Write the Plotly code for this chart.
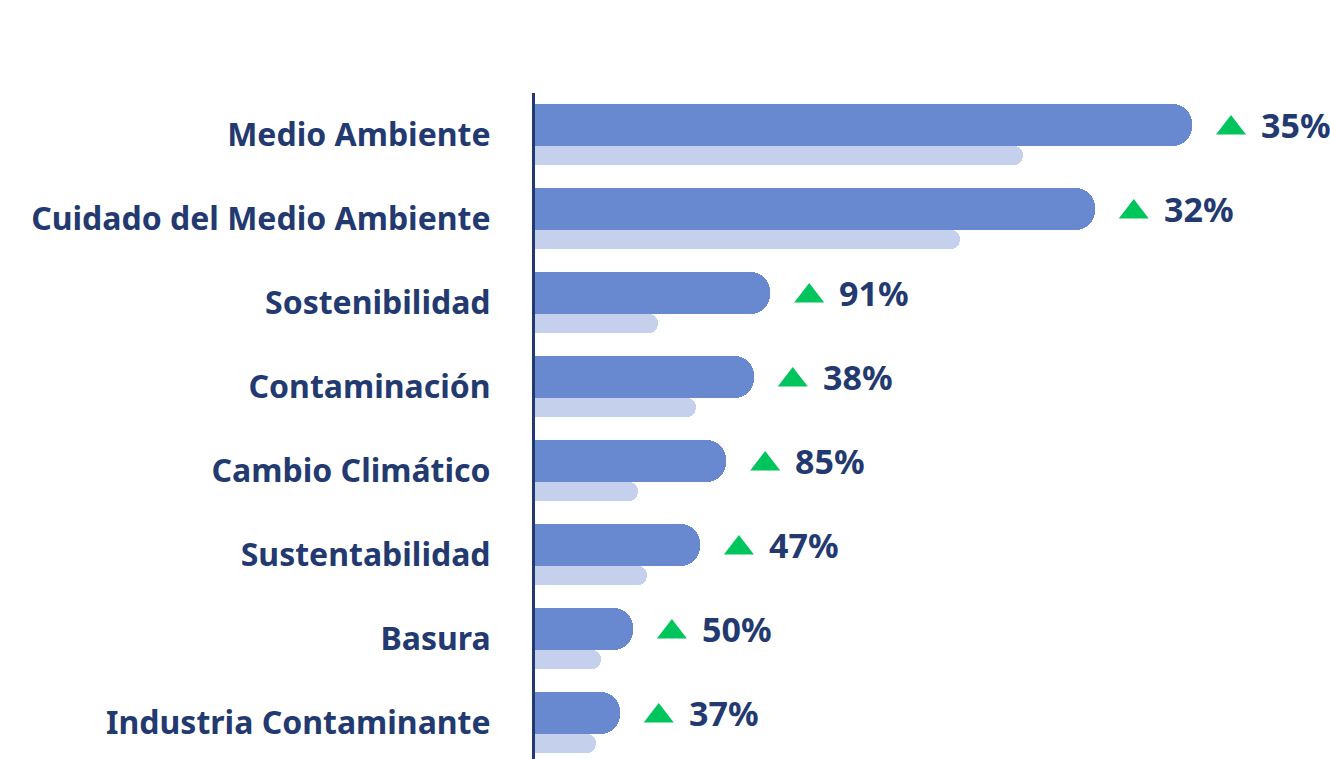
import plotly.graph_objects as go

categories = ["Medio Ambiente", "Cuidado del Medio Ambiente", "Sostenibilidad", "Contaminación",
              "Cambio Climático", "Sustentabilidad", "Basura", "Industria Contaminante"]
current = [100.0, 85.2, 35.8, 33.3, 29.1, 25.1, 14.9, 12.9]
previous = [74.3, 64.7, 18.7, 24.5, 15.7, 17.0, 10.0, 9.3]
growth_labels = ["35%", "32%", "91%", "38%", "85%", "47%", "50%", "37%"]

NAVY = "#233a70"
MAIN = "#6889d0"
LIGHT = "#c5d1ec"
GREEN = "#00c45c"
FONT = "Noto Sans"

pos = list(range(len(categories)))
hidden = 6.0  # part of bar hidden left of the axis (keeps left end square)

fig = go.Figure()
fig.add_trace(go.Bar(
    y=pos, x=[v + hidden for v in current], base=-hidden, orientation="h",
    offset=-0.363, width=0.5, marker=dict(color=MAIN, cornerradius=19, line=dict(width=0)),
    hoverinfo="skip", showlegend=False))
fig.add_trace(go.Bar(
    y=pos, x=[v + hidden for v in previous], base=-hidden, orientation="h",
    offset=0.137, width=0.226, marker=dict(color=LIGHT, cornerradius="50%", line=dict(width=0)),
    hoverinfo="skip", showlegend=False))

px_per_unit = 6.57
fig.add_trace(go.Scatter(
    x=[v + 39 / px_per_unit for v in current], y=[p - 0.077 for p in pos], mode="markers",
    marker=dict(symbol="triangle-up", size=26, color=GREEN, line=dict(width=0)),
    hoverinfo="skip", showlegend=False, cliponaxis=False))

for p, v, t in zip(pos, current, growth_labels):
    fig.add_annotation(x=v, y=p - 0.113, text=t, showarrow=False, xanchor="left", yanchor="middle",
                       xshift=67, font=dict(family=FONT, size=34, color=NAVY, weight=700))

fig.update_layout(
    width=1330, height=759, margin=dict(l=535, r=0, t=93, b=0),
    plot_bgcolor="white", paper_bgcolor="white", barmode="overlay", bargap=0,
)
fig.update_xaxes(range=[0, 795 / px_per_unit], visible=False, showgrid=False, zeroline=False)
fig.update_yaxes(range=[7.435, -0.494], tickvals=pos, ticktext=categories, showgrid=False,
                 zeroline=False, showline=True, linecolor=NAVY, linewidth=3, ticks="",
                 ticklabelstandoff=35,
                 tickfont=dict(family=FONT, size=32, color=NAVY, weight=700))

fig.write_html("out.html", config={"displayModeBar": False},
               post_script="document.body.style.margin='0';document.body.style.overflow='hidden';")
